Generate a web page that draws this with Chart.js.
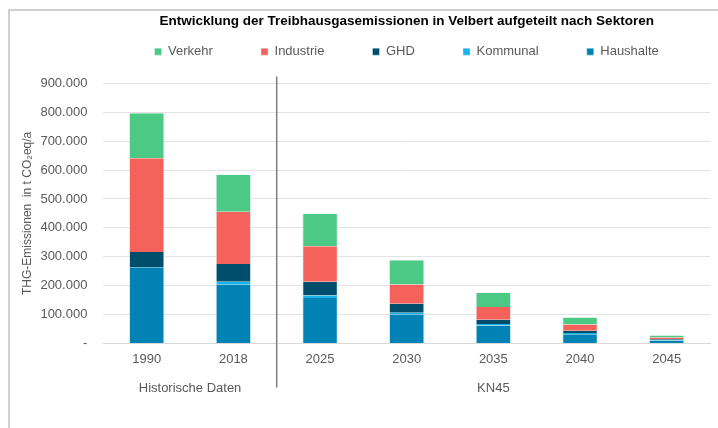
<!DOCTYPE html>
<html>
<head>
<meta charset="utf-8">
<script src="https://cdn.jsdelivr.net/npm/chart.js@4/dist/chart.umd.min.js"></script>
<style>
  body { margin: 0; background: #fff; }
  #wrap { position: relative; width: 718px; height: 428px; }
  #frame { position: absolute; left: 8px; top: 9px; right: 0; bottom: 0;
           border-left: 2px solid #d0d0d0; border-top: 2px solid #d0d0d0; }
  canvas { position: absolute; left: 0; top: 0; }
</style>
</head>
<body>
<div id="wrap">
  <div id="frame"></div>
  <canvas id="chart" width="718" height="428"></canvas>
</div>
<script>
// Jahre und Gruppen
const years = ['1990', '2018', '2025', '2030', '2035', '2040', '2045'];
const groupLabels = ['Historische Daten', 'KN45'];
const groupStart = [0, 2];
const groupEnd = [1, 6];

// Emissionen in t CO2eq/a
const haushalte = [264000, 203000, 157000, 99000, 62000, 32000, 10000];
const kommunal = [0, 10000, 9000, 7000, 5000, 4000, 2000];
const ghd = [52000, 62000, 47000, 31000, 15000, 8000, 2000];
const industrie = [325000, 181000, 123000, 67000, 44000, 21000, 6000];
const verkehr = [156000, 128000, 113000, 84000, 49000, 25000, 7000];

const yTicks = [0, 100000, 200000, 300000, 400000, 500000, 600000, 700000, 800000, 900000];

const FONT = "'Liberation Sans', Arial, sans-serif";
const GREY = '#595959';

function fmt(v) {
    if (v === 0) return '-';
    return String(v).replace(/\B(?=(\d{3})+(?!\d))/g, '.');
}

function ds(label, data, color) {
    return {
        label: label,
        data: data,
        backgroundColor: color,
        borderColor: 'rgba(215,238,246,0.9)',
        borderWidth: { left: 1, right: 1, top: 0, bottom: 0 },
        borderSkipped: false,
        categoryPercentage: 1,
        barPercentage: 0.41
    };
}

// Trennlinie und Gruppenbeschriftung
const groupPlugin = {
    id: 'groups',
    afterDraw(chart) {
        const x = chart.scales.x;
        const area = chart.chartArea;
        const c = chart.ctx;
        c.save();
        const sepX = (x.getPixelForValue(1) + x.getPixelForValue(2)) / 2;
        c.strokeStyle = '#7f7f7f';
        c.lineWidth = 1.5;
        c.beginPath();
        c.moveTo(sepX, area.top - 7);
        c.lineTo(sepX, area.bottom + 44);
        c.stroke();
        c.fillStyle = GREY;
        c.font = '13px ' + FONT;
        c.textAlign = 'center';
        c.textBaseline = 'middle';
        groupLabels.forEach((g, i) => {
            const cx = (x.getPixelForValue(groupStart[i]) + x.getPixelForValue(groupEnd[i])) / 2;
            c.fillText(g, cx, area.bottom + 45);
        });
        c.restore();
    }
};

const ctx = document.getElementById('chart').getContext('2d');
new Chart(ctx, {
    type: 'bar',
    data: {
        labels: years,
        datasets: [
            ds('Haushalte', haushalte, '#0082b5'),
            ds('Kommunal', kommunal, '#17b5ea'),
            ds('GHD', ghd, '#004d6c'),
            ds('Industrie', industrie, '#f4625b'),
            ds('Verkehr', verkehr, '#4cc985')
        ]
    },
    options: {
        responsive: false,
        animation: false,
        layout: { padding: { left: 20, right: 8, top: 13, bottom: 53 } },
        plugins: {
            title: {
                display: true,
                text: 'Entwicklung der Treibhausgasemissionen in Velbert aufgeteilt nach Sektoren',
                fullSize: false,
                color: '#000',
                font: { family: FONT, size: 13.5, weight: 'bold' },
                padding: { top: 0, bottom: 4 }
            },
            subtitle: {
                // nur Abstand zwischen Legende und Diagramm
                display: true,
                text: '',
                fullSize: false,
                weight: 500,
                font: { size: 1 },
                padding: { top: 0, bottom: 14 }
            },
            legend: {
                reverse: true,
                fullSize: false,
                labels: {
                    boxWidth: 7,
                    boxHeight: 7,
                    padding: 12,
                    color: GREY,
                    font: { family: FONT, size: 13 },
                    generateLabels: (chart) => {
                        const items = Chart.defaults.plugins.legend.labels.generateLabels(chart);
                        items.forEach(it => {
                            if (it.datasetIndex !== 0) it.text = it.text + ' '.repeat(10);
                        });
                        return items;
                    }
                }
            },
            tooltip: { enabled: false }
        },
        scales: {
            x: {
                stacked: true,
                grid: { display: false, drawTicks: false },
                border: { color: '#d9d9d9' },
                ticks: { color: GREY, font: { family: FONT, size: 13 }, padding: 8 }
            },
            y: {
                stacked: true,
                min: 0,
                max: 900000,
                afterBuildTicks: (axis) => { axis.ticks = yTicks.map(v => ({ value: v })); },
                grid: { color: '#e3e3e3', drawTicks: false },
                border: { display: false },
                ticks: {
                    color: GREY,
                    font: { family: FONT, size: 13 },
                    padding: 16,
                    callback: (v) => fmt(v)
                },
                title: {
                    display: true,
                    text: 'THG-Emissionen  in t CO\u2082eq/a',
                    color: GREY,
                    font: { family: FONT, size: 12 },
                    padding: { top: 0, bottom: -10 }
                }
            }
        }
    },
    plugins: [groupPlugin]
});
</script>
</body>
</html>
